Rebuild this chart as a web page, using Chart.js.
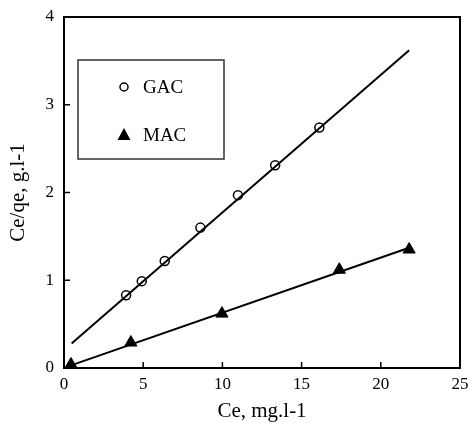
<!DOCTYPE html>
<html>
<head>
<meta charset="utf-8">
<script src="https://cdn.jsdelivr.net/npm/chart.js@4"></script>
<style>
  html, body { margin: 0; padding: 0; background: #fff; }
  #wrap { width: 468px; height: 427px; }
</style>
</head>
<body>
<div id="wrap"><canvas id="isoChart" width="468" height="427"></canvas></div>
<script>
// Datos
const gacCe = [3.92, 4.91, 6.36, 8.61, 10.98, 13.33, 16.12];
const gacRatio = [0.83, 0.99, 1.22, 1.60, 1.97, 2.31, 2.74];
const macCe = [0.44, 4.22, 9.97, 17.38, 21.79];
const macRatio = [0.04, 0.29, 0.62, 1.12, 1.35];

// Rectas de ajuste (extremos)
const gacFitX = [0.48, 21.79];
const gacFitY = [0.28, 3.62];
const macFitX = [0.44, 21.79];
const macFitY = [0.03, 1.37];

const xTicks = [0, 5, 10, 15, 20, 25];
const yTicks = [0, 1, 2, 3, 4];
const seriesNames = ['GAC', 'MAC'];

const toPoints = (xs, ys) => xs.map((x, i) => ({ x: x, y: ys[i] }));
const serif = 'Liberation Serif, Times New Roman, serif';

// Marco, marcas hacia dentro y leyenda
const framePlugin = {
    id: 'frame',
    afterDraw(chart) {
        const { ctx, chartArea: a, scales } = chart;
        ctx.save();
        ctx.strokeStyle = '#000';
        ctx.lineWidth = 2;
        ctx.strokeRect(a.left, a.top, a.right - a.left, a.bottom - a.top);

        ctx.lineWidth = 1.5;
        ctx.beginPath();
        scales.x.ticks.forEach(t => {
            const px = scales.x.getPixelForValue(t.value);
            ctx.moveTo(px, a.bottom);
            ctx.lineTo(px, a.bottom - 6);
        });
        scales.y.ticks.forEach(t => {
            const py = scales.y.getPixelForValue(t.value);
            ctx.moveTo(a.left, py);
            ctx.lineTo(a.left + 6, py);
        });
        ctx.stroke();

        // leyenda
        const lx = a.left + 14, ly = a.top + 43;
        ctx.lineWidth = 1.5;
        ctx.strokeStyle = '#333';
        ctx.strokeRect(lx, ly, 146, 99);

        const mx = lx + 46;
        const y1 = ly + 27, y2 = ly + 75;
        ctx.strokeStyle = '#000';
        ctx.fillStyle = '#fff';
        ctx.lineWidth = 1.5;
        ctx.beginPath();
        ctx.arc(mx, y1, 4, 0, Math.PI * 2);
        ctx.fill();
        ctx.stroke();

        ctx.fillStyle = '#000';
        ctx.beginPath();
        ctx.moveTo(mx, y2 - 7);
        ctx.lineTo(mx + 6.5, y2 + 5);
        ctx.lineTo(mx - 6.5, y2 + 5);
        ctx.closePath();
        ctx.fill();

        ctx.font = '19px ' + serif;
        ctx.textBaseline = 'middle';
        ctx.textAlign = 'left';
        ctx.fillText(seriesNames[0], mx + 19, y1 + 1);
        ctx.fillText(seriesNames[1], mx + 19, y2 + 1);
        ctx.restore();
    }
};

const ctx = document.getElementById('isoChart').getContext('2d');
const isoChart = new Chart(ctx, {
    type: 'scatter',
    data: {
        datasets: [
            {
                label: 'GAC fit',
                data: toPoints(gacFitX, gacFitY),
                showLine: true,
                borderColor: '#000',
                borderWidth: 2,
                pointRadius: 0
            },
            {
                label: 'MAC fit',
                data: toPoints(macFitX, macFitY),
                showLine: true,
                borderColor: '#000',
                borderWidth: 2,
                pointRadius: 0
            },
            {
                label: seriesNames[0],
                data: toPoints(gacCe, gacRatio),
                pointStyle: 'circle',
                pointRadius: 4.5,
                borderWidth: 1.5,
                borderColor: '#000',
                backgroundColor: '#fff'
            },
            {
                label: seriesNames[1],
                data: toPoints(macCe, macRatio),
                pointStyle: 'triangle',
                pointRadius: 7,
                borderWidth: 1,
                borderColor: '#000',
                backgroundColor: '#000'
            }
        ]
    },
    options: {
        responsive: false,
        animation: false,
        layout: { padding: { top: 17, right: 7, left: 0, bottom: 0 } },
        plugins: {
            legend: { display: false },
            tooltip: { enabled: false }
        },
        scales: {
            x: {
                type: 'linear',
                min: 0,
                max: 25,
                afterBuildTicks: s => { s.ticks = xTicks.map(v => ({ value: v })); },
                afterFit: s => { s.height = 59; s.paddingRight = 0; s.paddingLeft = 0; },
                ticks: { color: '#000', font: { family: serif, size: 17 }, padding: 6 },
                grid: { drawOnChartArea: false, drawTicks: false },
                border: { display: true, color: '#000', width: 2 },
                title: {
                    display: true,
                    text: 'Ce, mg.l-1',
                    color: '#000',
                    font: { family: serif, size: 21 },
                    padding: { top: 0, bottom: 3 }
                }
            },
            y: {
                type: 'linear',
                min: 0,
                max: 4,
                afterBuildTicks: s => { s.ticks = yTicks.map(v => ({ value: v })); },
                afterFit: s => { s.width = 64; s.paddingTop = 0; s.paddingBottom = 0; },
                ticks: { color: '#000', font: { family: serif, size: 17 }, padding: 10 },
                grid: { drawOnChartArea: false, drawTicks: false },
                border: { display: true, color: '#000', width: 2 },
                title: {
                    display: true,
                    text: 'Ce/qe, g.l-1',
                    color: '#000',
                    font: { family: serif, size: 21 },
                    padding: { top: 6, bottom: 0 }
                }
            }
        }
    },
    plugins: [framePlugin]
});
</script>
</body>
</html>
